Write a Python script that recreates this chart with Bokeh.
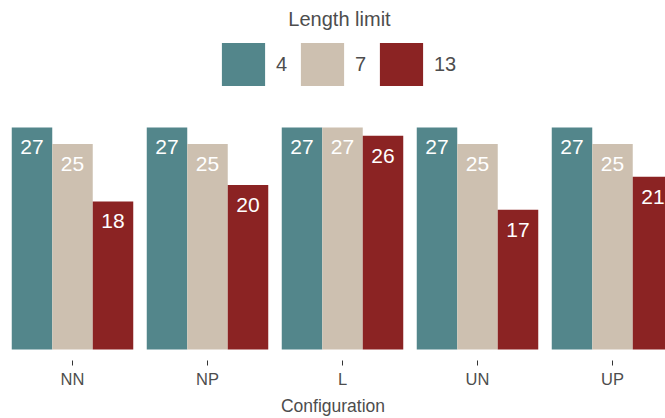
from bokeh.plotting import figure
from bokeh.models import Range1d, FixedTicker, Legend, LegendItem, Label, ColumnDataSource
from bokeh.core.properties import value
from bokeh.embed import file_html
from bokeh.resources import INLINE

configs = ["NN", "NP", "L", "UN", "UP"]
limits = ["4", "7", "13"]
vals_4 = [27, 27, 27, 27, 27]
vals_7 = [25, 25, 27, 25, 25]
vals_13 = [18, 20, 26, 17, 21]
colors = ["#53868B", "#CDC0B0", "#8B2323"]

series = [vals_4, vals_7, vals_13]
offsets = [-0.3, 0.0, 0.3]
bar_w = 0.3

# layout geometry (picture pixels)
W, H = 665, 418
frame_left_px, frame_right_px = 0, 665
frame_top_px, frame_bot_px = 0, 363
base_px, unit_px = 352.0, 8.296
cat0_px, cat_px = 72.0, 135.0
x_start = (frame_left_px - cat0_px) / cat_px
x_end = (frame_right_px - cat0_px) / cat_px
y_start = -(frame_bot_px - base_px) / unit_px
y_end = (base_px - frame_top_px) / unit_px

p = figure(width=W, height=H, output_backend="svg", toolbar_location=None,
           x_range=Range1d(x_start, x_end), y_range=Range1d(y_start, y_end),
           y_axis_location=None, min_border_left=0, min_border_right=0,
           min_border_top=0, min_border_bottom=H - frame_bot_px,
           outline_line_color=None)
p.grid.visible = False
p.background_fill_color = "white"
p.border_fill_color = "white"

FONT = "Liberation Sans"
renderers = []
for k, (vals, off, col) in enumerate(zip(series, offsets, colors)):
    xs = [i + off for i in range(len(configs))]
    src = ColumnDataSource(dict(x=xs, top=vals, lab=[str(v) for v in vals]))
    r = p.vbar(x="x", top="top", bottom=0, width=bar_w, source=src,
               fill_color=col, line_color=None)
    renderers.append(r)
    p.text(x="x", y="top", text="lab", source=src, text_color="white",
           text_font=value(FONT), text_font_size="21px", text_align="center",
           text_baseline="middle", y_offset=20)

ax = p.xaxis[0]
ax.ticker = FixedTicker(ticks=list(range(len(configs))))
ax.major_label_overrides = {i: c for i, c in enumerate(configs)}
ax.axis_line_color = None
ax.major_tick_line_color = "#333333"
ax.major_tick_out = 5
ax.major_tick_in = 0
ax.minor_tick_line_color = None
ax.major_label_text_font = FONT
ax.major_label_text_font_size = "16.5px"
ax.major_label_text_color = "#4D4D4D"
ax.major_label_standoff = 4
ax.axis_label = "Configuration"
ax.axis_label_text_font = FONT
ax.axis_label_text_font_size = "17.5px"
ax.axis_label_text_font_style = "normal"
ax.axis_label_text_color = "#4D4D4D"
ax.axis_label_standoff = 5

# legend glyphs are drawn with a 10% inset, so the glyph area is 54px for a 43px key
legend = Legend(items=[LegendItem(label=l, renderers=[r]) for l, r in zip(limits, renderers)],
                orientation="horizontal",
                location=(216 - frame_left_px, frame_bot_px - 94),
                glyph_width=54, glyph_height=54, label_standoff=6, label_width=18,
                spacing=1, padding=0, margin=0, border_line_color=None,
                background_fill_alpha=0, label_text_font=FONT,
                label_text_font_size="20px", label_text_color="#4D4D4D")
p.add_layout(legend)

title_y = (base_px - 19) / unit_px
title_x = (339 - cat0_px) / cat_px
p.add_layout(Label(x=title_x, y=title_y, text="Length limit", text_font=FONT,
                   text_font_size="20px", text_color="#4D4D4D",
                   text_align="center", text_baseline="middle"))

open("out.html", "w").write(file_html(p, INLINE))
